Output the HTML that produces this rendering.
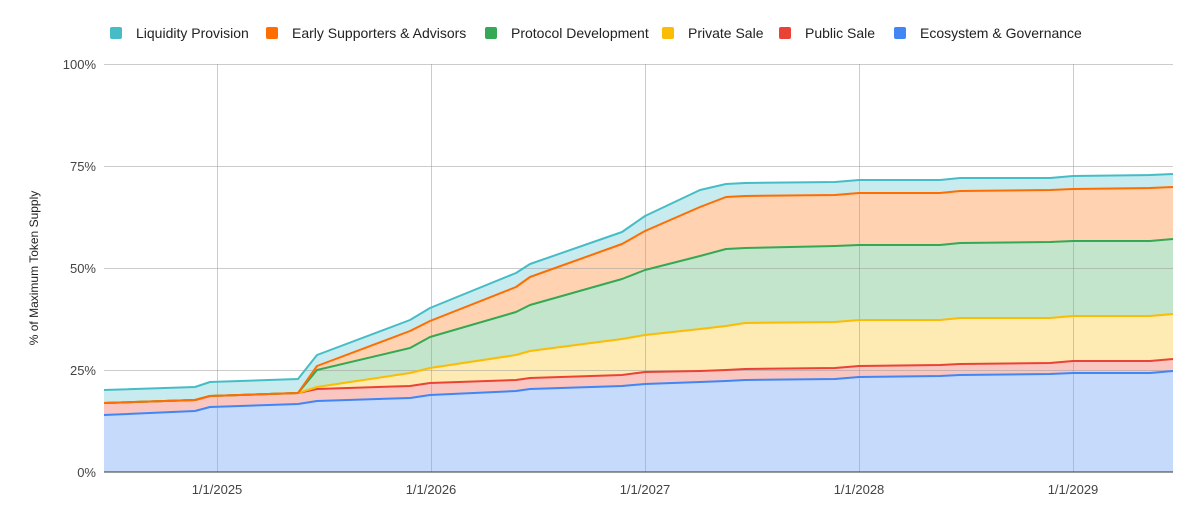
<!DOCTYPE html>
<html><head><meta charset="utf-8"><style>body{margin:0;background:#fff}svg{display:block;font-family:"Liberation Sans",Arial,sans-serif}</style></head>
<body>
<svg id="s" width="1200" height="519" viewBox="0 0 1200 519">
<rect width="1200" height="519" fill="#fff"/>
<g id="areas"></g>
<g stroke="#999" stroke-opacity="0.5" stroke-width="1">
<line x1="104" x2="1173" y1="64.5" y2="64.5"/><line x1="104" x2="1173" y1="166.5" y2="166.5"/><line x1="104" x2="1173" y1="268.5" y2="268.5"/><line x1="104" x2="1173" y1="370.5" y2="370.5"/>
<line y1="64" y2="472" x1="217.5" x2="217.5"/><line y1="64" y2="472" x1="431.5" x2="431.5"/><line y1="64" y2="472" x1="645.5" x2="645.5"/><line y1="64" y2="472" x1="859.5" x2="859.5"/><line y1="64" y2="472" x1="1073.5" x2="1073.5"/>
</g>
<line x1="104" x2="1173" y1="472" y2="472" stroke="#333" stroke-width="1"/>
<g font-size="13" fill="#444" text-anchor="end">
<text x="96" y="69">100%</text><text x="96" y="171">75%</text><text x="96" y="273">50%</text><text x="96" y="375">25%</text><text x="96" y="477">0%</text>
</g>
<g font-size="13" fill="#444" text-anchor="middle">
<text x="217" y="494">1/1/2025</text><text x="431" y="494">1/1/2026</text><text x="645" y="494">1/1/2027</text><text x="859" y="494">1/1/2028</text><text x="1073" y="494">1/1/2029</text>
</g>
<text transform="translate(38,268) rotate(-90)" font-size="12" fill="#222" text-anchor="middle">% of Maximum Token Supply</text>
<g font-size="14" fill="#222">
<rect x="110" y="27" width="12" height="12" rx="2" fill="#46bdc6"/><text x="136" y="38">Liquidity Provision</text>
<rect x="266" y="27" width="12" height="12" rx="2" fill="#ff6d01"/><text x="292" y="38">Early Supporters &amp; Advisors</text>
<rect x="485" y="27" width="12" height="12" rx="2" fill="#34a853"/><text x="511" y="38">Protocol Development</text>
<rect x="662" y="27" width="12" height="12" rx="2" fill="#fbbc04"/><text x="688" y="38">Private Sale</text>
<rect x="779" y="27" width="12" height="12" rx="2" fill="#ea4335"/><text x="805" y="38">Public Sale</text>
<rect x="894" y="27" width="12" height="12" rx="2" fill="#4285f4"/><text x="920" y="38">Ecosystem &amp; Governance</text>
</g>
<g id="lines"></g>
</svg>
<script>
var X=[104,195,210,298,317,410,430,516,530,622,645,700,726,745,835,859,940,960,1050,1073,1150,1173];
var S=[
["#4285f4",[415,411,407,404,401,398,395,391,389,386,384,382,381,380,379,377,376,375,374,373,373,371]],
["#ea4335",[403,400,396,393,389,386,383,380,378,375,372,371,370,369,368,366,365,364,363,361,361,359]],
["#fbbc04",[403,400,396,393,387,373,368,355,351,339,335,329,326,323,322,320,320,318,318,316,316,314]],
["#34a853",[403,400,396,393,370,348,337,312,305,279,270,256,249,248,246,245,245,243,242,241,241,239]],
["#ff6d01",[403,400,396,393,366,331,321,287,277,244,231,207,197,196,195,193,193,191,190,189,188,187]],
["#46bdc6",[390,387,382,379,355,320,308,273,264,232,216,190,184,183,182,180,180,178,178,176,175,174]]];
var h='',prev=null,lines='';
S.forEach(function(s){var top=X.map(function(x,i){return x+','+s[1][i]});
var bot=prev?X.map(function(x,i){return x+','+prev[i]}).reverse():['1173,472','104,472'];
h+='<polygon points="'+top.concat(bot).join(' ')+'" fill="'+s[0]+'" fill-opacity="0.3"/>';
lines+='<polyline points="'+top.join(' ')+'" fill="none" stroke="'+s[0]+'" stroke-width="2" stroke-linejoin="round"/>';
prev=s[1];});
document.getElementById('areas').innerHTML=h;
document.getElementById('lines').innerHTML=lines;
</script>
</body></html>
